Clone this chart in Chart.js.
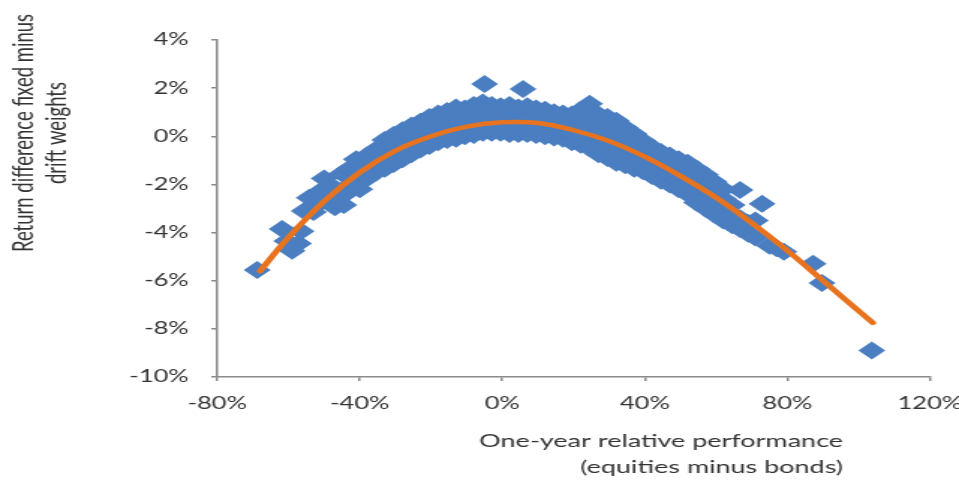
<!DOCTYPE html>
<html><head><meta charset="utf-8">
<script src="https://cdn.jsdelivr.net/npm/chart.js@4"></script>
<style>
html,body{margin:0;padding:0;background:#fff;overflow:hidden;}
#wrap{width:640px;height:483px;transform:scaleX(1.4984);transform-origin:0 0;}
</style></head><body>
<div id="wrap"><canvas id="c" width="640" height="483"></canvas></div>
<script>
// One-year relative performance (equities minus bonds), %
const relPerf = [
  -68.8, -61.8, -60.5, -59.0, -57.2, -56.5, -55.6, -54.2, -53.0, -52.0,
  -50.8, -50.0, -49.0, -48.0, -47.0, -46.0, -45.0, -44.5, -43.5, -43.0,
  -42.0, -41.0, -40.5, -40.0, -39.0,
  -38, -38, -38,
  -35.5, -35.5, -35.5,
  -33, -33, -33, -33,
  -30.5, -30.5, -30.5, -30.5,
  -28, -28, -28, -28,
  -25.5, -25.5, -25.5, -25.5,
  -23, -23, -23, -23,
  -20.5, -20.5, -20.5, -20.5,
  -18, -18, -18, -18,
  -15.5, -15.5, -15.5, -15.5,
  -13, -13, -13, -13,
  -10.5, -10.5, -10.5, -10.5,
  -8, -8, -8, -8,
  -5.5, -5.5, -5.5, -5.5,
  -5.0,
  -3, -3, -3, -3,
  -0.5, -0.5, -0.5, -0.5,
  2, 2, 2, 2,
  4.5, 4.5, 4.5, 4.5,
  5.8,
  7, 7, 7, 7,
  9.5, 9.5, 9.5, 9.5,
  12, 12, 12, 12,
  14.5, 14.5, 14.5, 14.5,
  17, 17, 17, 17,
  19.5, 19.5, 19.5, 19.5,
  22, 22, 22, 22,
  24.5, 24.5, 24.5, 24.5, 24.5,
  27, 27, 27, 27, 27,
  29.5, 29.5, 29.5, 29.5, 29.5,
  32, 32, 32, 32, 32,
  34.5, 34.5, 34.5, 34.5, 34.5,
  37, 37, 37, 37, 37,
  39.5, 39.5, 39.5, 39.5,
  42, 42, 42, 42,
  44.5, 44.5, 44.5, 44.5,
  47, 47, 47, 47,
  49.5, 49.5, 49.5, 49.5,
  52, 52, 52, 52,
  54.5, 54.5, 54.5, 54.5,
  57, 57, 57, 57,
  59.5, 59.5, 59.5, 59.5,
  62, 62, 62, 62,
  64.5, 64.5, 64.5,
  66.7, 66.7, 66.7,
  69, 69,
  71, 71,
  72.9,
  75, 77, 79,
  87.2, 89.7, 103.7
];
// Return difference fixed minus drift weights, %
const retDiff = [
  -5.55, -3.85, -4.35, -4.75, -4.45, -3.95, -3.10, -2.55, -3.15, -2.85,
  -2.25, -1.75, -2.45, -2.05, -2.95, -2.55, -1.55, -2.85, -2.35, -1.35,
  -1.95, -0.95, -1.55, -2.20, -1.25,
  -1.75, -1.35, -0.80,
  -1.50, -1.05, -0.55,
  -1.35, -0.90, -0.45, -0.15,
  -1.15, -0.75, -0.35, 0.05,
  -0.95, -0.55, -0.15, 0.25,
  -0.75, -0.35, 0.05, 0.45,
  -0.55, -0.15, 0.25, 0.60,
  -0.40, 0.00, 0.40, 0.80,
  -0.25, 0.15, 0.50, 0.95,
  -0.15, 0.20, 0.60, 1.05,
  -0.10, 0.30, 0.70, 1.20,
  0.00, 0.35, 0.75, 1.15,
  0.05, 0.45, 0.85, 1.30,
  0.15, 0.50, 0.90, 1.40,
  2.17,
  0.15, 0.55, 0.95, 1.30,
  0.15, 0.50, 0.90, 1.25,
  0.10, 0.50, 0.85, 1.30,
  0.10, 0.45, 0.85, 1.20,
  1.96,
  0.10, 0.45, 0.80, 1.25,
  0.05, 0.40, 0.80, 1.15,
  0.00, 0.35, 0.75, 1.10,
  -0.05, 0.30, 0.65, 1.00,
  -0.10, 0.25, 0.60, 0.95,
  -0.25, 0.15, 0.50, 0.90,
  -0.35, 0.00, 0.40, 1.10,
  -0.50, -0.10, 0.30, 0.75, 1.35,
  -0.75, -0.35, 0.05, 0.50, 0.90,
  -0.90, -0.50, -0.10, 0.35, 0.80,
  -1.10, -0.70, -0.30, 0.10, 0.65,
  -1.20, -0.80, -0.40, 0.00, 0.35,
  -1.35, -0.95, -0.55, -0.15, 0.10,
  -1.45, -1.05, -0.65, -0.20,
  -1.65, -1.25, -0.85, -0.45,
  -1.85, -1.45, -1.05, -0.65,
  -2.00, -1.60, -1.20, -0.80,
  -2.20, -1.80, -1.35, -0.95,
  -2.40, -2.00, -1.55, -1.10,
  -2.75, -2.30, -1.85, -1.35,
  -3.00, -2.60, -2.15, -1.60,
  -3.25, -2.80, -2.35, -1.90,
  -3.50, -3.05, -2.60, -2.20,
  -3.70, -3.30, -2.85,
  -3.85, -3.40, -2.23,
  -4.05, -3.60,
  -4.20, -3.50,
  -2.80,
  -4.55, -4.65, -4.80,
  -5.30, -6.10, -8.90
];
// Polynomial trend line
const trendX = [-68, -60, -50, -40, -30, -20, -10, 0, 10, 20, 30, 40, 50, 60, 70, 80, 90, 104];
const trendY = [-5.6, -4.2, -2.7, -1.5, -0.6, 0.0, 0.4, 0.58, 0.55, 0.25, -0.2, -0.85, -1.65, -2.55, -3.6, -4.75, -6.0, -7.75];
// Axis tick values
const xTickValues = [-80, -40, 0, 40, 80, 120];
const yTickValues = [-10, -8, -6, -4, -2, 0, 2, 4];
const yTitle = ['Return difference fixed minus', 'drift weights'];
const xTitle = ['One-year relative performance', '(equities minus bonds)'];

const scatterData = relPerf.map((x, i) => ({x: x, y: retDiff[i]}));
const trendData = trendX.map((x, i) => ({x: x, y: trendY[i]}));

const AXIS = '#8a8a8a';
const TXT = '#333333';
const FONT = 'Lato';

const titlePlugin = {
  id: 'titles',
  afterDraw(chart) {
    const ctx = chart.ctx;
    ctx.save();
    ctx.fillStyle = TXT;
    ctx.font = '18.5px ' + FONT;
    ctx.textAlign = 'center';
    ctx.textBaseline = 'middle';
    ctx.translate(16.5, 133);
    ctx.rotate(-Math.PI / 2);
    ctx.fillText(yTitle[0], 0, 0);
    ctx.fillText(yTitle[1], 0, 22);
    ctx.restore();
    ctx.save();
    ctx.fillStyle = TXT;
    ctx.font = '18px ' + FONT;
    ctx.textAlign = 'right';
    ctx.textBaseline = 'middle';
    ctx.fillText(xTitle[0], 562.6, 441);
    ctx.fillText(xTitle[1], 562.6, 467);
    ctx.restore();
  }
};

new Chart(document.getElementById('c'), {
  type: 'scatter',
  data: {
    datasets: [
      {
        type: 'line',
        data: trendData,
        borderColor: '#E8731E',
        borderWidth: 4.5,
        pointRadius: 0,
        fill: false,
        tension: 0.4,
        borderCapStyle: 'round',
        order: 0
      },
      {
        data: scatterData,
        backgroundColor: '#4A7EC1',
        borderWidth: 0,
        pointStyle: 'rectRot',
        pointRadius: 9,
        order: 1
      }
    ]
  },
  options: {
    responsive: false,
    animation: false,
    devicePixelRatio: 1,
    events: [],
    layout: { padding: { top: 40, right: 19.4, left: 0, bottom: 0 } },
    plugins: { legend: { display: false }, tooltip: { enabled: false } },
    scales: {
      x: {
        type: 'linear', min: -80, max: 120,
        afterBuildTicks: s => { s.ticks = xTickValues.map(v => ({ value: v })); },
        afterFit: s => { s.height = 106; s.paddingLeft = 0; s.paddingRight = 0; },
        ticks: { callback: v => v + '%', font: { family: FONT, size: 17 }, color: TXT, padding: 12, maxRotation: 0, autoSkip: false },
        grid: { drawOnChartArea: false, drawTicks: true, tickLength: 4, color: AXIS, lineWidth: 1.5 },
        border: { color: AXIS, width: 1.5 }
      },
      y: {
        type: 'linear', min: -10, max: 4,
        afterBuildTicks: s => { s.ticks = yTickValues.map(v => ({ value: v })); },
        afterFit: s => { s.width = 145; s.paddingTop = 0; s.paddingBottom = 0; },
        ticks: { callback: v => v + '%', font: { family: FONT, size: 17 }, color: TXT, padding: 15, autoSkip: false },
        grid: { drawOnChartArea: false, drawTicks: true, tickLength: 4, color: AXIS, lineWidth: 1.5 },
        border: { color: AXIS, width: 1.5 }
      }
    }
  },
  plugins: [titlePlugin]
});
</script>
</body></html>
